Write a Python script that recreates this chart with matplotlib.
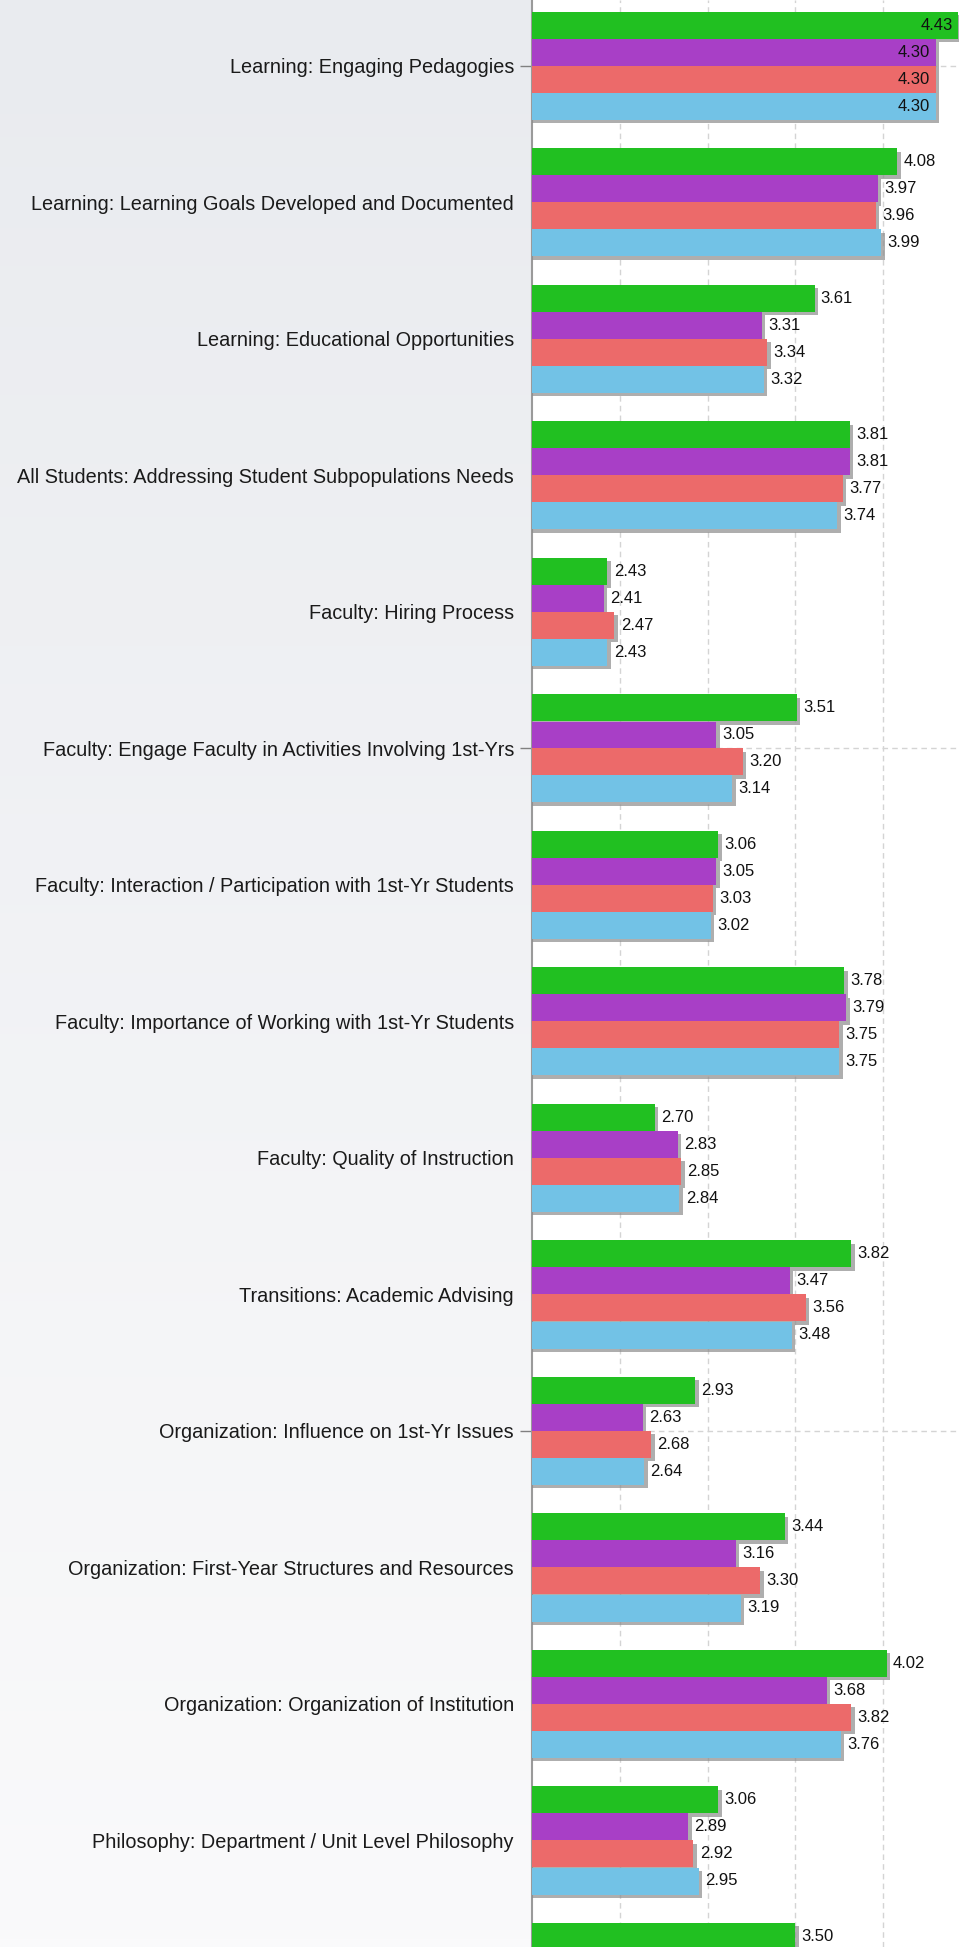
import numpy as np
import matplotlib.pyplot as plt
import matplotlib.patheffects as pe
from matplotlib.colors import LinearSegmentedColormap

plt.rcParams['font.family'] = ['Liberation Sans', 'DejaVu Sans']

# categories, top to bottom (the 15th group is cut off at the bottom edge)
categories = [
    "Learning: Engaging Pedagogies",
    "Learning: Learning Goals Developed and Documented",
    "Learning: Educational Opportunities",
    "All Students: Addressing Student Subpopulations Needs",
    "Faculty: Hiring Process",
    "Faculty: Engage Faculty in Activities Involving 1st-Yrs",
    "Faculty: Interaction / Participation with 1st-Yr Students",
    "Faculty: Importance of Working with 1st-Yr Students",
    "Faculty: Quality of Instruction",
    "Transitions: Academic Advising",
    "Organization: Influence on 1st-Yr Issues",
    "Organization: First-Year Structures and Resources",
    "Organization: Organization of Institution",
    "Philosophy: Department / Unit Level Philosophy",
    "",
]

green = [4.43, 4.08, 3.61, 3.81, 2.43, 3.51, 3.06, 3.78, 2.70, 3.82, 2.93, 3.44, 4.02, 3.06, 3.50]
purple = [4.30, 3.97, 3.31, 3.81, 2.41, 3.05, 3.05, 3.79, 2.83, 3.47, 2.63, 3.16, 3.68, 2.89, None]
red = [4.30, 3.96, 3.34, 3.77, 2.47, 3.20, 3.03, 3.75, 2.85, 3.56, 2.68, 3.30, 3.82, 2.92, None]
blue = [4.30, 3.99, 3.32, 3.74, 2.43, 3.14, 3.02, 3.75, 2.84, 3.48, 2.64, 3.19, 3.76, 2.95, None]

series = [green, purple, red, blue]
colors = ['#21C021', '#A83FC6', '#EC6A6A', '#72C2E6']

W, H = 959, 1947
fig = plt.figure(figsize=(W / 100, H / 100), dpi=100)

# background gradient behind the labels
bg = fig.add_axes([0, 0, 1, 1], zorder=0)
grad = np.linspace(0, 1, 256).reshape(-1, 1)
cmap = LinearSegmentedColormap.from_list('bg', ['#E9EBEF', '#FAFAFB'])
bg.imshow(grad, aspect='auto', cmap=cmap, extent=[0, 1, 0, 1])
bg.axis('off')

x0 = 532
ax = fig.add_axes([x0 / W, 0, 1 - x0 / W, 1], zorder=1)
ax.set_facecolor('white')

n = len(categories)
y = np.arange(n)
pitch = 136.5
h = 27 / pitch

shadow = [pe.SimplePatchShadow(offset=(2.5, -2.5), shadow_rgbFace='#8c8c8c', alpha=0.7), pe.Normal()]

for k, (vals, col) in enumerate(zip(series, colors)):
    pos = y + (k - 1.5) * h
    for yi, v in zip(pos, vals):
        if v is None:
            continue
        bar = ax.barh(yi, v, height=h, color=col, zorder=3, edgecolor='none')
        bar[0].set_path_effects(shadow)
        # values near the right edge go inside the bar
        if v >= 4.2:
            ax.annotate(f"{v:.2f}", (v, yi), xytext=(-4, 0), textcoords='offset points',
                        ha='right', va='center', fontsize=12, color='#111111', zorder=4,
                        annotation_clip=False)
        else:
            ax.annotate(f"{v:.2f}", (v, yi), xytext=(4.5, 0), textcoords='offset points',
                        ha='left', va='center', fontsize=12, color='#111111', zorder=4,
                        annotation_clip=False)

# labels on every category, tick marks and gridlines on every 5th
ax.yaxis.remove_overlapping_locs = False
ax.set_yticks(y[:-1])
ax.set_yticklabels(categories[:-1], fontsize=14.3, color='#1a1a1a')
ax.tick_params(axis='y', which='major', length=0, pad=13)
ax.set_yticks(y[::5], minor=True)
ax.tick_params(axis='y', which='minor', length=9, width=1, color='#808080')

ax.set_xticks([2.5, 3.0, 3.5, 4.0])
ax.tick_params(axis='x', length=0, labelbottom=False)
ax.grid(axis='x', which='major', color='#D4D4D4', linestyle=(0, (4, 3)), linewidth=1, zorder=0)
ax.grid(axis='y', which='minor', color='#D4D4D4', linestyle=(0, (4, 3)), linewidth=1, zorder=0)
ax.set_axisbelow(True)

px_per_unit = 175.5
ax.set_xlim(2.0, 2.0 + (W - x0) / px_per_unit)
ax.set_ylim((H - 66) / pitch, -66 / pitch)

for s in ['top', 'right', 'bottom']:
    ax.spines[s].set_visible(False)
ax.spines['left'].set_color('#9a9a9a')
ax.spines['left'].set_linewidth(1.5)

fig.savefig('out.png', dpi=100)
